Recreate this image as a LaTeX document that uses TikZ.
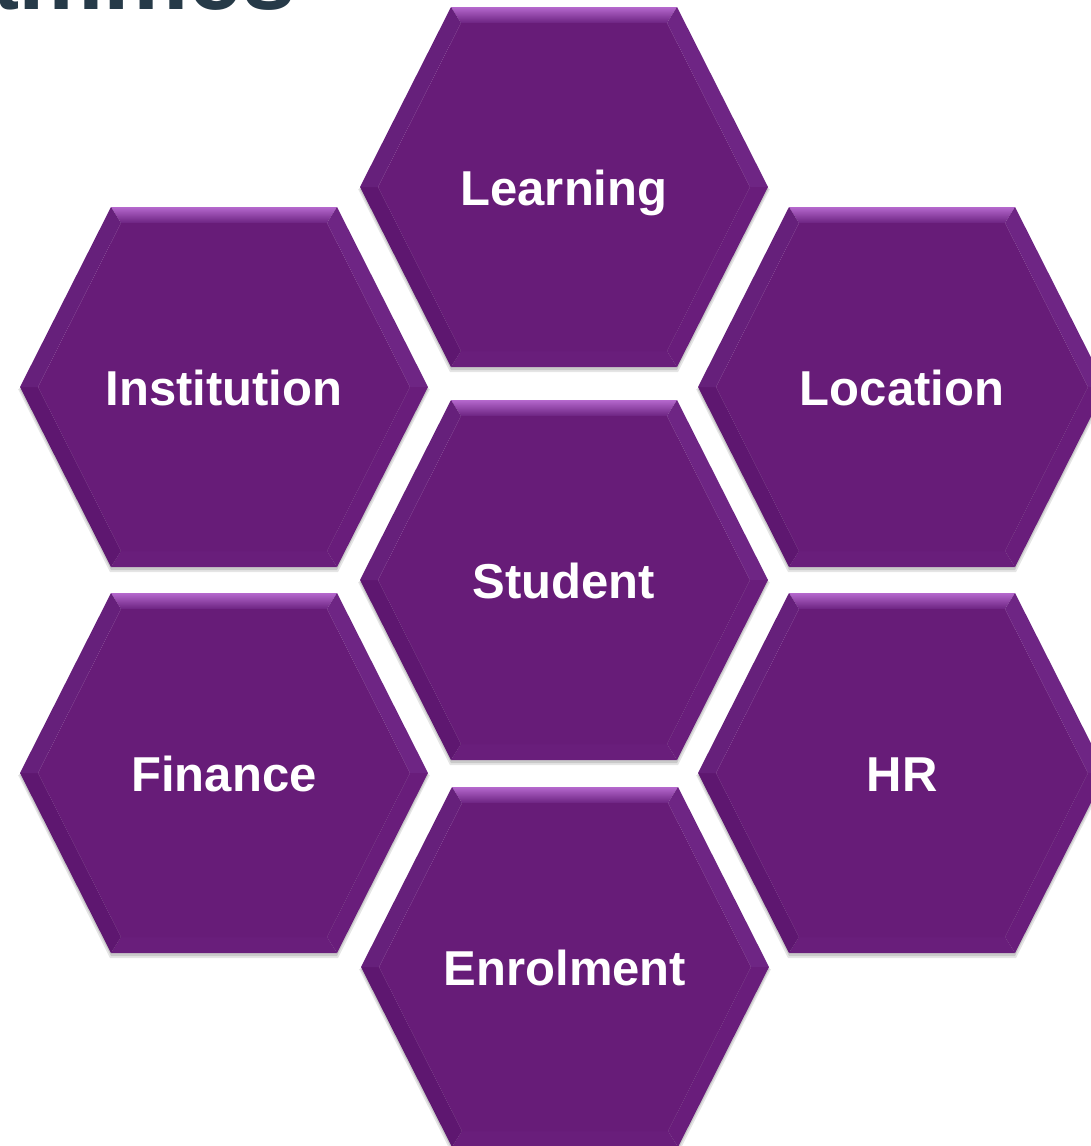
\documentclass[tikz,border=0pt]{standalone}
\usepackage{fontspec}
\setmainfont{Liberation Sans}
\definecolor{hexbase}{HTML}{671C78}
\definecolor{hexlight}{HTML}{B568CD}
\definecolor{hextop}{HTML}{6C2381}
\definecolor{hexupright}{HTML}{6E2584}
\definecolor{hexlowright}{HTML}{691D7B}
\definecolor{hexbottom}{HTML}{691E7B}
\definecolor{hexlowleft}{HTML}{5E1770}
\definecolor{hexupleft}{HTML}{66207B}
\definecolor{titleink}{HTML}{263A48}
\begin{document}
\begin{tikzpicture}[
        x=1pt, y=-1pt,
        hexlabel/.style={text=white, font=\bfseries\fontsize{49}{59}\selectfont, anchor=base, inner sep=0pt},
        heading/.style={text=titleink, font=\bfseries\fontsize{96}{110}\selectfont, anchor=base east, inner sep=0pt},
        hexcell/.pic={
            % soft shadow under the cell
            \fill[black, opacity=0.10] (-206,2) -- (-114,185) -- (114,185) -- (206,2) -- cycle;
            \fill[black, opacity=0.12] (-205,1) -- (-113,183) -- (113,183) -- (205,1) -- cycle;
            % bevel faces
            \shade[top color=hexlight, bottom color=hextop] (-113,-180) -- (113,-180) -- (103,-164) -- (-103,-164) -- cycle;
            \fill[hexupright] (113,-180) -- (204,0) -- (186,0) -- (103,-164) -- cycle;
            \fill[hexlowright] (204,0) -- (113,180) -- (103,164) -- (186,0) -- cycle;
            \fill[hexbottom] (113,180) -- (-113,180) -- (-103,164) -- (103,164) -- cycle;
            \fill[hexlowleft] (-113,180) -- (-204,0) -- (-186,0) -- (-103,164) -- cycle;
            \fill[hexupleft] (-204,0) -- (-113,-180) -- (-103,-164) -- (-186,0) -- cycle;
            % face
            \fill[hexbase] (-186,0) -- (-103,-164) -- (103,-164) -- (186,0) -- (103,164) -- (-103,164) -- cycle;
            \node[hexlabel] (-label) at (0,18) {#1};
        },
    ]
	\useasboundingbox (0,0) rectangle (1091,1146);
	\clip (0,0) rectangle (1091,1146);

	\node[heading] (title) at (296,9) {Programmes};

	\pic (learning) at (564,187) {hexcell=Learning};
	\pic (institution) at (224,387) {hexcell=Institution};
	\pic (location) at (902,387) {hexcell=Location};
	\pic (student) at (564,580) {hexcell=Student};
	\pic (finance) at (224,773) {hexcell=Finance};
	\pic (hr) at (902,773) {hexcell=HR};
	\pic (enrolment) at (565,967) {hexcell=Enrolment};

    \end{tikzpicture}
\end{document}
